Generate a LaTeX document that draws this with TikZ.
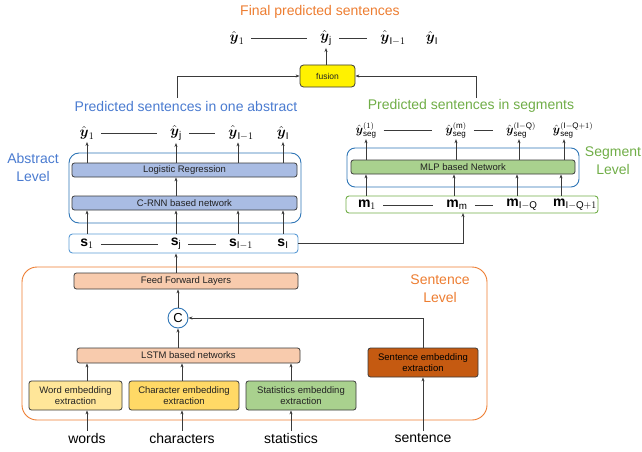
\documentclass[tikz,border=0pt]{standalone}
\usepackage{amsmath}
\usepackage{fontspec}
\setmainfont{Liberation Sans}
\usetikzlibrary{arrows.meta,calc}
\definecolor{tblue}{HTML}{4A7BD0}
\definecolor{tgreen}{HTML}{70AD47}
\definecolor{torange}{HTML}{ED7D31}
\definecolor{lblue}{HTML}{2E75B6}
\definecolor{sblue}{HTML}{5B9BD5}
\definecolor{bgray}{HTML}{3A3A3A}
\definecolor{fblue}{HTML}{A9BCE3}
\definecolor{fgreen}{HTML}{A9D18E}
\definecolor{fpeach}{HTML}{F8CBAD}
\definecolor{fyel1}{HTML}{FFE699}
\definecolor{fyel2}{HTML}{FFD966}
\definecolor{fbrown}{HTML}{C55A11}
\definecolor{txt}{HTML}{222222}
\begin{document}
\begin{tikzpicture}[x=1pt,y=-1pt,
  box/.style={draw=bgray, line width=0.8pt, rounded corners=2.5pt, inner sep=0pt,
     align=center, text=txt, font=\fontsize{9.5}{11}\selectfont},
  grp/.style={draw=#1, line width=0.9pt, inner sep=0pt},
  arr/.style={-{Stealth[length=4pt,width=3pt]}, line width=0.8pt, draw=bgray},
  mth/.style={inner sep=2pt, font=\fontsize{14}{16}\selectfont},
  mths/.style={inner sep=2pt, font=\fontsize{12}{14}\selectfont},
  conn/.style={line width=0.8pt, draw=bgray, shorten <=5pt, shorten >=11pt},
  ttl/.style={font=\fontsize{14}{16}\selectfont, text=#1, align=center, inner sep=0pt},
  lvl/.style={font=\fontsize{14}{18}\selectfont, text=#1, align=center, inner sep=0pt},
  inp/.style={font=\fontsize{14}{16}\selectfont, text=black, inner sep=2pt}
]
\useasboundingbox (0,0) rectangle (642,452);

% ---------- top ----------
\node[ttl=torange] (t1) at (320,12) {Final predicted sentences};
\node[mth] (y1) at (237,38) {$\hat{\boldsymbol{y}}_1$};
\node[mth] (yj) at (326,38) {$\hat{\boldsymbol{y}}_{\mathrm{j}}$};
\node[mth] (yI1) at (393,38) {$\hat{\boldsymbol{y}}_{\mathrm{I}-1}$};
\node[mth] (yI) at (432,38) {$\hat{\boldsymbol{y}}_{\mathrm{I}}$};
\draw[conn] (y1) -- (yj);
\draw[conn] (yj) -- (yI1);
\node[box, fill=yellow, minimum width=55pt, minimum height=22pt, rounded corners=3.5pt,
      font=\fontsize{8.5}{10}\selectfont] (fusion) at (327.5,76) {fusion};
\draw[arr] (fusion.north -| yj) -- (yj.south);

\coordinate (a1) at (177,98);
\coordinate (a2) at (476,98);
\draw[arr] (a1) |- (fusion.west);
\draw[arr] (a2) |- (fusion.east);

% ---------- abstract level ----------
\node[ttl=tblue] (t2) at (186,106) {Predicted sentences in one abstract};
\node[lvl=tblue] (alvl) at (33,167) {Abstract\\Level};
\node[grp=lblue, rounded corners=10pt, minimum width=232pt, minimum height=70pt] (absbox) at (185,188) {};
\node[box, fill=fblue, minimum width=225pt, minimum height=14pt] (lr) at (184.5,170) {Logistic Regression};
\node[box, fill=fblue, minimum width=225pt, minimum height=14pt] (crnn) at (184.5,203) {C-RNN based network};
\node[mth] (ay1) at (87,133) {$\hat{\boldsymbol{y}}_1$};
\node[mth] (ayj) at (176,133) {$\hat{\boldsymbol{y}}_{\mathrm{j}}$};
\node[mth] (ayI1) at (241,133) {$\hat{\boldsymbol{y}}_{\mathrm{I}-1}$};
\node[mth] (ayI) at (283,133) {$\hat{\boldsymbol{y}}_{\mathrm{I}}$};
\draw[conn] (ay1) -- (ayj);
\draw[conn] (ayj) -- (ayI1);
\foreach \n in {ay1,ayj,ayI}{\draw[arr] (lr.north -| \n) -- (\n.south);}
\draw[arr] (lr.north -| 238,0) -- (ayI1.south -| 238,0);
\draw[arr] (crnn.north -| ayj) -- (lr.south -| ayj);

% s row
\node[grp=sblue, rounded corners=3.5pt, minimum width=229pt, minimum height=19pt] (srow) at (183.5,243.5) {};
\node[mth] (s1) at (87,244) {$\mathbf{s}_1$};
\node[mth] (sj) at (176,244) {$\mathbf{s}_{\mathrm{j}}$};
\node[mth] (sI1) at (241,244) {$\mathbf{s}_{\mathrm{I}-1}$};
\node[mth] (sI) at (283,244) {$\mathbf{s}_{\mathrm{I}}$};
\draw[conn] (s1) -- (sj);
\draw[conn] (sj) -- (sI1);
\foreach \n in {s1,sj,sI}{\draw[arr] (srow.north -| \n) -- (crnn.south -| \n);}
\draw[arr] (srow.north -| 238,0) -- (crnn.south -| 238,0);

% ---------- segment level ----------
\node[ttl=tgreen] (t3) at (471,106) {Predicted sentences in segments};
\node[lvl=tgreen] (slvl) at (613,161) {Segment\\Level};
\node[grp=lblue, rounded corners=8pt, minimum width=232pt, minimum height=39pt] (segbox) at (463,167.5) {};
\node[box, fill=fgreen, minimum width=224pt, minimum height=14pt] (mlp) at (463,167) {MLP based Network};
\node[mths] (g1) at (366,130) {$\hat{\boldsymbol{y}}_{\mathrm{seg}}^{(1)}$};
\node[mths] (gm) at (456,130) {$\hat{\boldsymbol{y}}_{\mathrm{seg}}^{(\mathrm{m})}$};
\node[mths] (gIQ) at (521,130) {$\hat{\boldsymbol{y}}_{\mathrm{seg}}^{(\mathrm{I}-\mathrm{Q})}$};
\node[mths] (gIQ1) at (573,130) {$\hat{\boldsymbol{y}}_{\mathrm{seg}}^{(\mathrm{I}-\mathrm{Q}+1)}$};
\draw[conn] (g1) -- (gm);
\draw[conn] (gm) -- (gIQ);
\coordinate (c1) at (366,0);
\coordinate (c2) at (456,0);
\coordinate (c3) at (519,0);
\coordinate (c4) at (564,0);
\foreach \c in {c1,c2,c3,c4}{\draw[arr] (mlp.north -| \c) -- ($(gIQ.south -| \c)+(0,-1)$);}

% m row
\node[grp=tgreen, rounded corners=3pt, minimum width=252pt, minimum height=17pt] (mrow) at (472,204.5) {};
\node[mth] (m1) at (367,205) {$\mathbf{m}_1$};
\node[mth] (mm) at (457,205) {$\mathbf{m}_{\mathrm{m}}$};
\node[mth] (mIQ) at (522,205) {$\mathbf{m}_{\mathrm{I}-\mathrm{Q}}$};
\node[mth] (mIQ1) at (575,205) {$\mathbf{m}_{\mathrm{I}-\mathrm{Q}+1}$};
\draw[conn] (m1) -- (mm);
\draw[conn] (mm) -- (mIQ);
\coordinate (d1) at (366,0);
\coordinate (d2) at (454,0);
\coordinate (d3) at (517,0);
\coordinate (d4) at (561,0);
\foreach \c in {d1,d2,d3,d4}{\draw[arr] (mrow.north -| \c) -- (mlp.south -| \c);}
\coordinate (mj) at (463,213);
\draw[arr] (srow.east) -| (mj);

% ---------- sentence level ----------
\node[grp=torange, rounded corners=15pt, minimum width=465pt, minimum height=153pt] (sentbox) at (254.5,343.5) {};
\node[lvl=torange] (sentlvl) at (440,288.5) {Sentence\\Level};
\node[box, fill=fpeach, minimum width=224pt, minimum height=16pt] (ffl) at (186,281) {Feed Forward Layers};
\node[circle, draw=lblue, line width=0.9pt, fill=white, minimum size=20pt, inner sep=0pt,
      font=\fontsize{13}{15}\selectfont] (cc) at (178,318) {C};
\node[box, fill=fpeach, minimum width=223pt, minimum height=15pt] (lstm) at (188.5,355.5) {LSTM based networks};
\node[box, fill=fyel1, minimum width=93pt, minimum height=29pt] (we) at (75.5,395.5) {Word embedding\\extraction};
\node[box, fill=fyel2, minimum width=110pt, minimum height=29pt] (ce) at (184,395.5) {Character embedding\\extraction};
\node[box, fill=fgreen, minimum width=110pt, minimum height=29pt] (ste) at (301,395.5) {Statistics embedding\\extraction};
\node[box, fill=fbrown, minimum width=110pt, minimum height=29pt, text=black] (se) at (423,362.5) {Sentence embedding\\extraction};

\node[inp] (words) at (87,438) {words};
\node[inp] (chars) at (182,438) {characters};
\node[inp] (stats) at (291,438) {statistics};
\node[inp] (sent) at (423,438) {sentence};

\draw[arr] (words.north) -- (we.south -| words.north);
\draw[arr] (chars.north) -- (ce.south -| chars.north);
\draw[arr] (stats.north) -- (ste.south -| stats.north);
\draw[arr] (sent.north) -- (se.south);
\draw[arr] (we.north -| words) -- (lstm.south -| words);
\draw[arr] (ce.north -| chars) -- (lstm.south -| chars);
\draw[arr] (ste.north -| stats) -- (lstm.south -| stats);
\draw[arr] (se.north) |- (cc.east);
\draw[arr] (lstm.north -| cc) -- (cc.south);
\draw[arr] (cc.north) -- (ffl.south -| cc);
\draw[arr] (ffl.north -| sj) -- (srow.south -| sj);
\end{tikzpicture}
\end{document}
